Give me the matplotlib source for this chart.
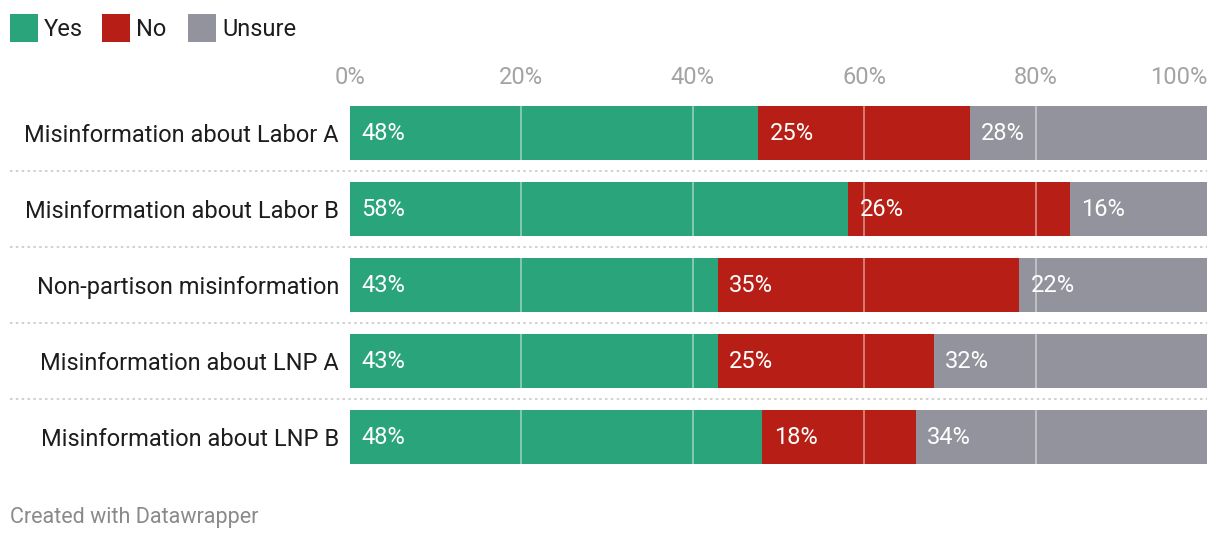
import matplotlib
matplotlib.use("Agg")
import matplotlib.pyplot as plt
from matplotlib.patches import Rectangle
from matplotlib.lines import Line2D
import matplotlib.transforms as mtransforms

plt.rcParams['font.family'] = ['Roboto', 'DejaVu Sans']

categories = ["Misinformation about Labor A", "Misinformation about Labor B",
              "Non-partison misinformation", "Misinformation about LNP A",
              "Misinformation about LNP B"]
yes = [47.6, 58.1, 42.9, 42.9, 48.1]
no = [24.7, 25.9, 35.2, 25.2, 17.9]
unsure = [27.7, 16.0, 21.9, 31.9, 34.0]
series_names = ["Yes", "No", "Unsure"]
colors = ["#2aa47b", "#b71f16", "#93939e"]
xticks = [0, 20, 40, 60, 80, 100]
xticklabels = ["0%", "20%", "40%", "60%", "80%", "100%"]

W, H = 1220, 540
fig = plt.figure(figsize=(W / 100, H / 100), dpi=100)
ax = fig.add_axes([350 / W, 1 - 475 / H, (1207 - 350) / W, 380 / H])

ys = list(range(len(categories)))
bh = 54 / 76
lefts = [0] * len(categories)
for vals, col in zip([yes, no, unsure], colors):
    ax.barh(ys, vals, left=lefts, height=bh, color=col, zorder=1, linewidth=0)
    for y, v, l in zip(ys, vals, lefts):
        ax.text(l + 1.35, y, f"{round(v):d}%", color="white", fontsize=17,
                va="center", ha="left", zorder=3)
    lefts = [a + b for a, b in zip(lefts, vals)]

for t in xticks[1:-1]:
    ax.axvline(t, color="white", alpha=0.45, lw=1.3, zorder=2)

ax.set_xlim(0, 100)
ax.set_ylim(len(categories) - 0.5, -0.5)
ax.set_xticks(xticks)
ax.set_xticklabels(xticklabels)
ax.xaxis.tick_top()
ax.tick_params(axis='x', length=0, labelsize=17, labelcolor="#a3a3a3", pad=4)
ax.get_xticklabels()[-1].set_ha("right")
ax.set_yticks(ys)
ax.set_yticklabels(categories)
ax.tick_params(axis='y', length=0, labelsize=17, labelcolor="#1d1d1d", pad=8)
for s in ax.spines.values():
    s.set_visible(False)

# dotted separators
trans = mtransforms.blended_transform_factory(fig.transFigure, ax.transData)
for i in range(len(categories) - 1):
    fig.add_artist(Line2D([10 / W, 1207 / W], [i + 0.5, i + 0.5], transform=trans,
                          color="#c8c8c8", lw=1.2, linestyle=(0, (1.5, 2))))

# legend
lx = [10, 102, 188]
for x0, name, col in zip(lx, series_names, colors):
    fig.add_artist(Rectangle((x0 / W, 1 - 42 / H), 28 / W, 28 / H,
                             transform=fig.transFigure, color=col, lw=0))
    fig.text((x0 + 34) / W, 1 - 29.5 / H, name, fontsize=17, color="#1d1d1d",
             va="center", ha="left")

fig.text(10 / W, 1 - 518 / H, "Created with Datawrapper", fontsize=15.5,
         color="#8a8a8a", va="center", ha="left")

fig.savefig("out.png", dpi=100)
